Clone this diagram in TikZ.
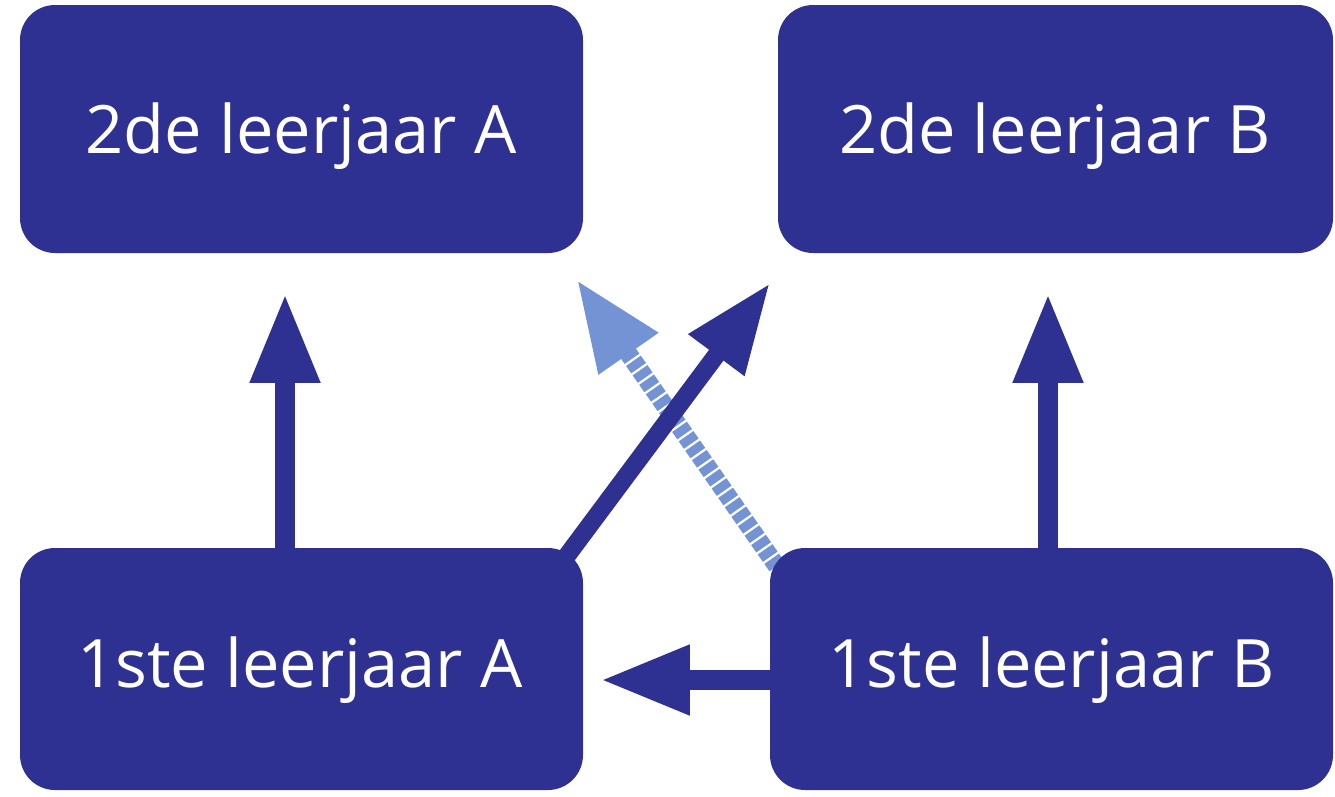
\documentclass[tikz,border=0pt]{standalone}
\usepackage{fontspec}
\setmainfont{Open Sans}
\usetikzlibrary{arrows.meta,backgrounds}
\definecolor{dblue}{HTML}{2E3192}
\definecolor{lblue}{HTML}{7393D4}
\begin{document}
\begin{tikzpicture}[x=0.02cm,y=-0.02cm,
  box/.style={fill=dblue,rounded corners=0.7cm,inner sep=0pt,text=white,
    font=\fontsize{38}{44}\selectfont},
  lab/.style={text=white,inner sep=0pt,font=\fontsize{38}{44}\selectfont},
  arr/.style={draw=dblue,line width=0.4cm,-{Triangle[length=1.8cm,width=1.3cm]}},
  darr/.style={draw=lblue,line width=0.36cm,dash pattern=on 0.18cm off 0.05cm,
    -{Triangle[length=1.8cm,width=1.36cm,fill=lblue]}}]
\useasboundingbox (0,0) rectangle (1335,796);
\path[box] (20,5) rectangle (583,253);
\node[lab] (a2) at (301,136) {2de leerjaar A};
\path[box] (778,5) rectangle (1333,253);
\node[lab] (b2) at (1055,136) {2de leerjaar B};
\path[box] (20,548) rectangle (583,790);
\node[lab] (a1) at (300,670) {1ste leerjaar A};
\path[box] (770,548) rectangle (1333,790);
\node[lab] (b1) at (1052,670) {1ste leerjaar B};
\coordinate (ta) at (285,293);
\coordinate (tb) at (1048,293);
\coordinate (sa) at (285,560);
\coordinate (sb) at (1048,560);
\coordinate (sd) at (560,565);
\coordinate (td) at (770,283);
\coordinate (sl) at (790,585);
\coordinate (tl) at (577,280);
\coordinate (sh) at (790,680);
\coordinate (th) at (600,680);
\begin{scope}[on background layer]
\draw[darr] (sl) -- (tl);
\draw[arr] (sa) -- (ta);
\draw[arr] (sb) -- (tb);
\draw[arr,line width=0.36cm] (sd) -- (td);
\draw[arr] (sh) -- (th);
\end{scope}
\end{tikzpicture}
\end{document}
